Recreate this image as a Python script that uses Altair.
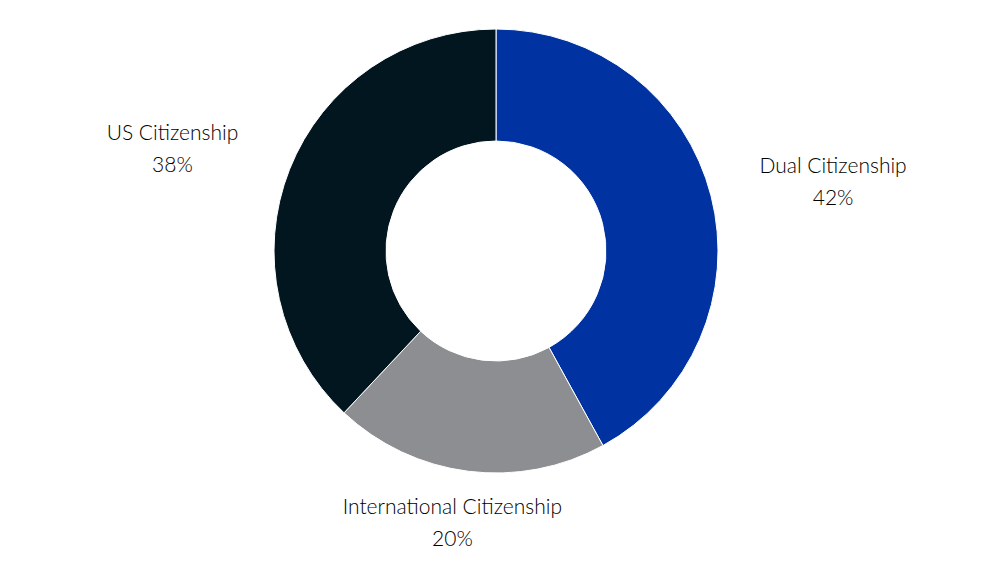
import altair as alt
import pandas as pd

categories = ["Dual Citizenship", "International Citizenship", "US Citizenship"]
values = [42, 20, 38]
order = [1, 2, 3]
colors = ["#0033A1", "#8D8E92", "#02161F"]

df = pd.DataFrame({"category": categories, "value": values, "idx": order})

CX, CY = 488, 243

base = alt.Chart(df)

arcs = base.mark_arc(innerRadius=110, outerRadius=222, stroke="white", strokeWidth=1).encode(
    theta=alt.Theta("value:Q", stack=True),
    order=alt.Order("idx:Q"),
    color=alt.Color("category:N", scale=alt.Scale(domain=categories, range=colors), legend=None),
    x=alt.value(CX),
    y=alt.value(CY),
)

labels = base.transform_window(
    cum="sum(value)", sort=[alt.SortField("idx")], frame=[None, 0]
).transform_joinaggregate(
    total="sum(value)"
).transform_calculate(
    mid="2*PI*(datum.cum - datum.value/2)/datum.total",
).transform_calculate(
    lx=f"{CX} + 348*sin(datum.mid)",
    ly=f"{CY} - 275*cos(datum.mid)",
    txt="[datum.category, format(datum.value/datum.total, '.0%')]",
).mark_text(
    font="Lato", fontSize=21, fontWeight=300, color="#000000", align="center",
    baseline="middle", lineHeight=32, dy=-16
).encode(
    x=alt.X("lx:Q", scale=None, axis=None),
    y=alt.Y("ly:Q", scale=None, axis=None),
    text="txt:N",
)

chart = alt.layer(arcs, labels).properties(
    width=984, height=553, autosize=alt.AutoSizeParams(type="none"), padding=0
).configure_view(stroke=None)

chart.save("out.html", embed_options={"renderer": "svg", "actions": False})
